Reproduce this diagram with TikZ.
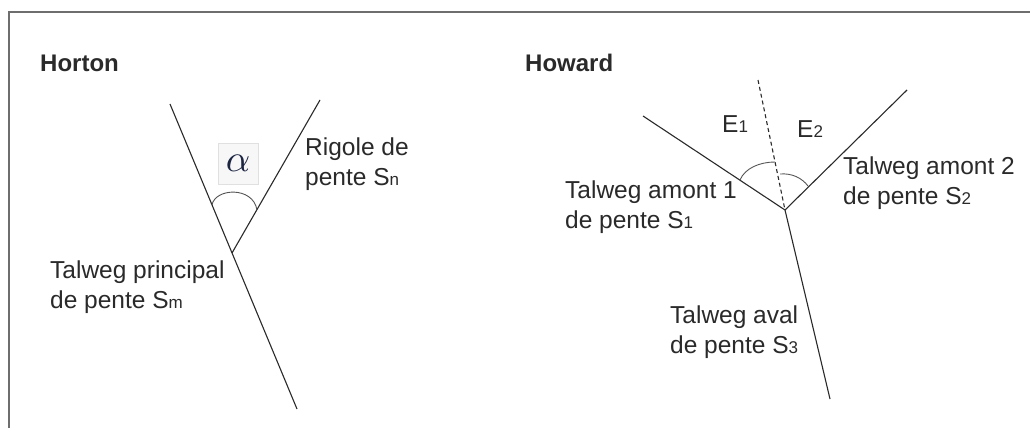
\documentclass[tikz,border=0pt]{standalone}
\usepackage{fontspec}
\setmainfont{Liberation Sans}
\definecolor{ink}{HTML}{2A2A2A}
\definecolor{framec}{HTML}{6E6E6E}
\definecolor{alphac}{HTML}{1C2542}
\newcommand{\sbs}[1]{\raisebox{-0.5pt}{\fontsize{17}{17}\selectfont #1}}
\tikzset{
  lbl/.style={anchor=base west, inner sep=0pt, align=left, text=ink,
              font=\fontsize{24.5}{30}\selectfont},
  ttl/.style={anchor=base west, inner sep=0pt, text=ink,
              font=\fontsize{24}{30}\selectfont\bfseries},
  talweg/.style={draw=ink, line width=1.1pt},
  dashln/.style={draw=ink, line width=1.1pt, dash pattern=on 4pt off 3pt},
  anglearc/.style={draw=ink!80, line width=0.9pt},
}
\begin{document}
\begin{tikzpicture}[x=1pt,y=-1pt]
\useasboundingbox (0,0) rectangle (1030,428);
\fill[white] (0,0) rectangle (1030,428);
% frame
\coordinate (fbl) at (9,428);
\coordinate (ftl) at (9,12);
\coordinate (ftr) at (1030,12);
\draw[framec, line width=1.7pt] (fbl) -- (ftl) -- (ftr);

% ---------- Horton ----------
\node[ttl] (horton) at (40,71.5) {Horton};
\coordinate (hmtop) at (170,104);
\coordinate (hmbot) at (297,409);
\coordinate (hntop) at (320,100);
\coordinate (hj) at (232,253);
\draw[talweg] (hmtop) -- (hmbot);
\draw[talweg] (hntop) -- (hj);
\coordinate (ha1) at (212,205);
\coordinate (ha2) at (257,210);
\draw[anglearc] (ha1) .. controls (215,188) and (253,186) .. (ha2);
\node[draw=black!12, fill=black!3, minimum width=40pt, minimum height=41pt,
      inner sep=0pt, text=alphac] (alpha) at (238,163.5) {\scalebox{3.8}{$\alpha$}};
\node[lbl] (rigole) at (305,185) {Rigole de\\pente S\sbs{n}};
\node[lbl] (principal) at (50,308) {Talweg principal\\de pente S\sbs{m}};

% ---------- Howard ----------
\node[ttl] (howard) at (525,71) {Howard};
\coordinate (wj) at (785,210);
\coordinate (w1top) at (643,116);
\coordinate (w2top) at (907,90);
\coordinate (w3bot) at (830,399);
\coordinate (wdtop) at (758,80);
\draw[talweg] (w1top) -- (wj);
\draw[talweg] (w2top) -- (wj);
\draw[talweg] (wj) -- (w3bot);
\draw[dashln] (wdtop) -- (wj);
\coordinate (e1a) at (740,180);
\coordinate (e1b) at (775,162);
\draw[anglearc] (e1a) .. controls (745,168) and (760,162) .. (e1b);
\coordinate (e2a) at (780,174);
\coordinate (e2b) at (808,186);
\draw[anglearc] (e2a) .. controls (792,173) and (802,178) .. (e2b);
\node[lbl] (e1) at (722,132) {E\sbs{1}};
\node[lbl] (e2) at (797,137) {E\sbs{2}};
\node[lbl] (amont1) at (565,228) {Talweg amont 1\\de pente S\sbs{1}};
\node[lbl] (amont2) at (843,204) {Talweg amont 2\\de pente S\sbs{2}};
\node[lbl] (aval) at (670,353) {Talweg aval\\de pente S\sbs{3}};
\end{tikzpicture}
\end{document}
